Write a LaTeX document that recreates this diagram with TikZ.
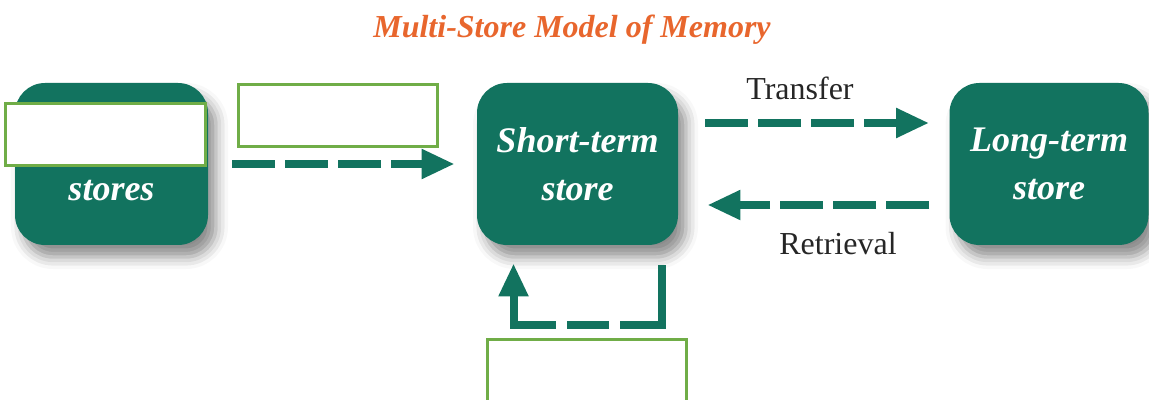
\documentclass[tikz,border=0pt]{standalone}
\usepackage{fontspec}
\setmainfont{Liberation Serif}
\usepackage{xcolor}
\usepackage{tikz}
\usetikzlibrary{positioning, arrows.meta, shadows.blur}
\definecolor{storegreen}{HTML}{12735F}
\definecolor{titleorange}{HTML}{E8662D}
\definecolor{blankgreen}{HTML}{70AD47}

\begin{document}
\begin{tikzpicture}[
  x=0.5pt, y=-0.5pt,
  store/.style={rounded corners=15pt, fill=storegreen, text=white, inner sep=0pt,
    minimum height=81pt, align=center, font=\fontsize{18}{24}\selectfont\bfseries\itshape,
    blur shadow={shadow xshift=4pt, shadow yshift=-6pt, shadow blur radius=6pt, shadow opacity=45}},
  blank/.style={draw=blankgreen, line width=1.5pt, fill=white, inner sep=0pt,
    minimum width=99.5pt, minimum height=31pt},
  flow/.style={storegreen, line width=4pt, dash pattern=on 21.5pt off 5pt,
    -{Triangle[length=16.5pt, width=14pt]}},
  tag/.style={font=\fontsize{16}{19}\selectfont, text=black!85}
]
  \clip (0,0) rectangle (1149,400);

  % Title
  \node[font=\fontsize{16}{19}\selectfont\bfseries\itshape, text=titleorange] (title) at (572,30) {Multi-Store Model of Memory};

  % Stores
  \node[store, minimum width=96.5pt] (sens) at (111.5,164) {\vphantom{Short-term}\\stores};
  \node[store, minimum width=100.5pt] (stm) at (577.5,164) {Short-term\\store};
  \node[store, minimum width=99.5pt] (ltm) at (1049,164) {Long-term\\store};

  % Arrows
  \draw[flow, shorten <=12pt, shorten >=11pt] (sens.east) -- (stm.west);
  \draw[flow, shorten <=13.5pt, shorten >=10pt] ([yshift=20.5pt]stm.east) -- ([yshift=20.5pt]ltm.west);
  \draw[flow, shorten <=10pt, shorten >=14.5pt] ([yshift=-20.5pt]ltm.west) -- ([yshift=-20.5pt]stm.east);
  \draw[flow, dash pattern=on 51pt off 5.5pt on 21pt off 5.5pt on 60pt]
    ([xshift=42pt, yshift=-10pt]stm.south) -- ++(0,-30pt) -| ([xshift=-32pt, yshift=-9pt]stm.south);

  \node[tag] (transfer) at (800,88) {Transfer};
  \node[tag] (retrieval) at (838,244) {Retrieval};

  % Blank label boxes
  \node[blank, minimum width=100pt] (blank1) at (105,135) {};
  \node[blank] (blank2) at (337.5,116) {};
  \node[blank, minimum height=34pt] (blank3) at (587,373) {};
\end{tikzpicture}
\end{document}
